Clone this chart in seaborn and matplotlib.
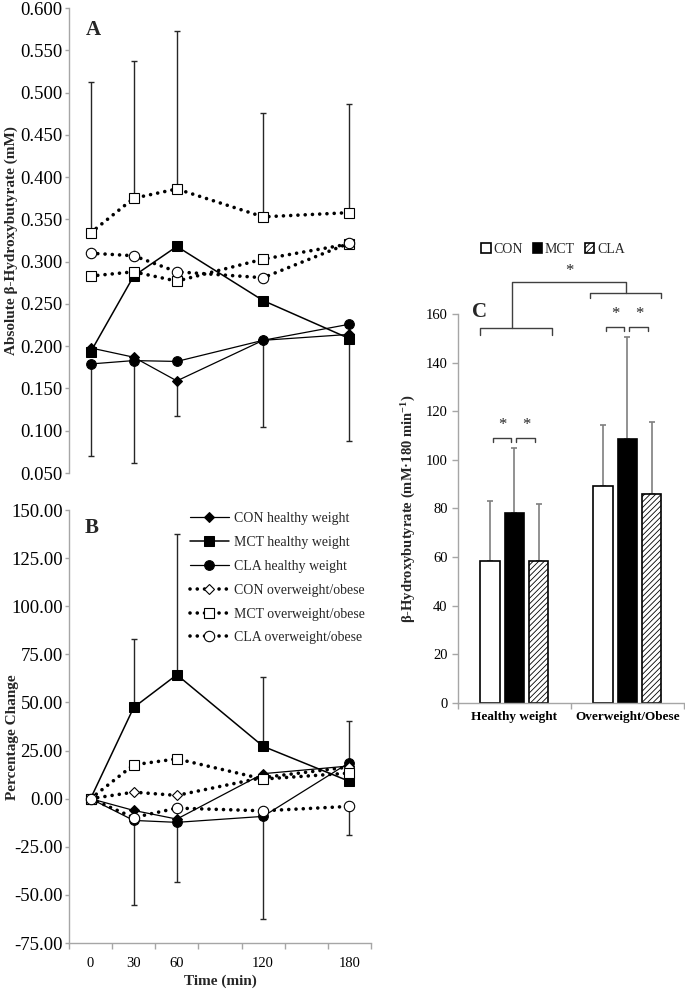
import numpy as np
import pandas as pd
import seaborn as sns
import matplotlib.pyplot as plt
from matplotlib.patches import Patch

nan = np.nan

# 时间点
time_min = [0, 30, 60, 120, 180]

# A: 绝对值 (mM)
con_hw_abs = [0.198, 0.187, 0.159, 0.207, 0.214]
mct_hw_abs = [0.193, 0.283, 0.318, 0.254, 0.209]
cla_hw_abs = [0.179, 0.183, 0.182, 0.207, 0.226]
con_ow_abs = [0.283, 0.288, 0.277, 0.303, 0.321]
mct_ow_abs = [0.334, 0.375, 0.386, 0.353, 0.358]
cla_ow_abs = [0.310, 0.307, 0.288, 0.281, 0.322]
# A: 误差 (只画单边)
mct_ow_abs_sd = [0.178, 0.162, 0.187, 0.123, 0.129]   # 向上
con_hw_abs_sd = [nan, nan, 0.042, nan, nan]            # 向下
cla_hw_abs_sd = [0.109, 0.121, nan, 0.102, nan]        # 向下
mct_hw_abs_sd = [nan, nan, nan, nan, 0.121]            # 向下

# B: 百分比变化
con_hw_pct = [0, -6.1, -10.6, 13.0, 17.0]
mct_hw_pct = [0, 47.4, 64.4, 27.2, 9.0]
cla_hw_pct = [0, -11.3, -12.3, -9.2, 18.8]
con_ow_pct = [0, 3.4, 1.7, 11.0, 16.5]
mct_ow_pct = [0, 17.6, 20.7, 10.2, 13.3]
cla_ow_pct = [0, -9.8, -4.9, -6.3, -4.0]
mct_hw_pct_sd = [nan, 35.6, 73.2, 36.0, 31.6]   # 向上
cla_hw_pct_sd = [nan, 44.2, 31.0, 53.5, nan]    # 向下
cla_ow_pct_sd = [nan, nan, nan, nan, 15.1]      # 向下

# C: 曲线下面积
groups = ['Healthy weight', 'Overweight/Obese']
treatments = ['CON', 'MCT', 'CLA']
auc_hw = [58.5, 78.0, 58.5]
auc_ow = [89.2, 108.7, 86.0]
auc_hw_sd = [24.5, 27.0, 23.5]
auc_ow_sd = [25.3, 41.8, 29.7]

sns.set_style('ticks')
plt.rcParams['font.family'] = ['Liberation Serif', 'DejaVu Serif']
plt.rcParams['mathtext.fontset'] = 'custom'
plt.rcParams['mathtext.rm'] = 'Liberation Serif:bold'
plt.rcParams['mathtext.it'] = 'Liberation Serif:bold'
plt.rcParams['mathtext.bf'] = 'Liberation Serif:bold'
plt.rcParams['hatch.linewidth'] = 0.6

GRAY = '#a6a6a6'
DOT = (0, (0.01, 2.0))

styles = {
    'CON healthy weight': dict(marker='D', markersize=5, color='black', lw=0.9,
                               markerfacecolor='black', markeredgecolor='black'),
    'MCT healthy weight': dict(marker='s', markersize=7, color='black', lw=1.1,
                               markerfacecolor='black', markeredgecolor='black'),
    'CLA healthy weight': dict(marker='o', markersize=7, color='black', lw=0.9,
                               markerfacecolor='black', markeredgecolor='black'),
    'CON overweight/obese': dict(marker='D', markersize=5.5, color='black', lw=2.6,
                                 linestyle=DOT, dash_capstyle='round',
                                 markerfacecolor='white', markeredgecolor='black', markeredgewidth=0.8),
    'MCT overweight/obese': dict(marker='s', markersize=7, color='black', lw=2.6,
                                 linestyle=DOT, dash_capstyle='round',
                                 markerfacecolor='white', markeredgecolor='black', markeredgewidth=0.8),
    'CLA overweight/obese': dict(marker='o', markersize=7.5, color='black', lw=2.6,
                                 linestyle=DOT, dash_capstyle='round',
                                 markerfacecolor='white', markeredgecolor='black', markeredgewidth=0.8),
}

fig = plt.figure(figsize=(6.85, 9.89), dpi=100)
axA = fig.add_axes([0.1007, 0.5217, 0.4409, 0.4702])
axB = fig.add_axes([0.1007, 0.0465, 0.4409, 0.4378])
axC = fig.add_axes([0.6686, 0.2892, 0.3299, 0.3933])


def err(ax, y, sd, up=True, color='#262626'):
    y = np.array(y, dtype=float)
    sd = np.array(sd, dtype=float)
    z = np.zeros_like(sd)
    yerr = [z, sd] if up else [sd, z]
    ax.errorbar(time_min, y, yerr=yerr, fmt='none', ecolor=color, elinewidth=1.0,
                capsize=2.5, capthick=1.0, zorder=1)


def style_axis(ax):
    for s in ['top', 'right']:
        ax.spines[s].set_visible(False)
    for s in ['left', 'bottom']:
        ax.spines[s].set_color(GRAY)
        ax.spines[s].set_linewidth(1.0)
    ax.tick_params(colors=GRAY, labelcolor='black', width=1.0, length=4)


# ---------- A ----------
err(axA, mct_ow_abs, mct_ow_abs_sd, up=True)
err(axA, con_hw_abs, con_hw_abs_sd, up=False)
err(axA, cla_hw_abs, cla_hw_abs_sd, up=False)
err(axA, mct_hw_abs, mct_hw_abs_sd, up=False)

series_a = [
    (con_hw_abs, 'CON healthy weight'), (cla_hw_abs, 'CLA healthy weight'),
    (mct_hw_abs, 'MCT healthy weight'), (con_ow_abs, 'CON overweight/obese'),
    (cla_ow_abs, 'CLA overweight/obese'), (mct_ow_abs, 'MCT overweight/obese'),
]
for y, name in series_a:
    st = dict(styles[name])
    if name == 'CON overweight/obese':  # 图A里用的是方块
        st['marker'] = 's'
        st['markersize'] = 7
    sns.lineplot(x=time_min, y=y, ax=axA, zorder=3, **st)

axA.set_xlim(-15, 195)
axA.set_ylim(0.05, 0.6)
axA.set_yticks(np.arange(0.05, 0.6001, 0.05))
axA.set_yticklabels(['%.3f' % v for v in np.arange(0.05, 0.6001, 0.05)], fontsize=13.5)
style_axis(axA)
axA.tick_params(axis='y', length=3, pad=1.5)
axA.spines['bottom'].set_visible(False)
axA.set_xticks([])
axA.set_ylabel('Absolute β-Hydroxybutyrate (mM)', fontsize=11, fontweight='bold')
axA.yaxis.set_label_coords(-0.17, 0.5)
axA.text(0.08, 0.953, 'A', transform=axA.transAxes, fontsize=15, fontweight='bold',
         ha='center', va='center')

# ---------- B ----------
err(axB, mct_hw_pct, mct_hw_pct_sd, up=True)
err(axB, cla_hw_pct, cla_hw_pct_sd, up=False)
err(axB, cla_ow_pct, cla_ow_pct_sd, up=False)

series_b = [
    (con_hw_pct, 'CON healthy weight'), (mct_hw_pct, 'MCT healthy weight'),
    (cla_hw_pct, 'CLA healthy weight'), (con_ow_pct, 'CON overweight/obese'),
    (mct_ow_pct, 'MCT overweight/obese'), (cla_ow_pct, 'CLA overweight/obese'),
]
for y, name in series_b:
    sns.lineplot(x=time_min, y=y, ax=axB, label=name, zorder=3, **styles[name])

axB.set_xlim(-15, 195)
axB.set_ylim(-75, 150)
yt = np.arange(-75, 150.1, 25)
axB.set_yticks(yt)
axB.set_yticklabels(['%.2f' % v for v in yt], fontsize=13.5)
style_axis(axB)
axB.tick_params(axis='y', length=3, pad=1.5)
axB.set_xticks(time_min)
axB.set_xticklabels([str(t) for t in time_min], fontsize=10.5)
axB.set_xticks(np.arange(-15, 196, 30), minor=True)
axB.tick_params(axis='x', which='major', length=0, pad=10)
axB.tick_params(axis='x', which='minor', length=4, color=GRAY, width=1.0)
axB.set_xlabel('Time (min)', fontsize=11, fontweight='bold', labelpad=3)
axB.set_ylabel('Percentage Change', fontsize=11, fontweight='bold')
axB.yaxis.set_label_coords(-0.165, 0.476)
axB.text(0.076, 0.958, 'B', transform=axB.transAxes, fontsize=15, fontweight='bold',
         ha='center', va='center')
axB.legend(loc='upper left', bbox_to_anchor=(0.40, 0.995), frameon=False, fontsize=10,
           handlelength=2.8, handletextpad=0.35, labelspacing=0.78, borderaxespad=0,
           borderpad=0)

# ---------- C ----------
df_c = pd.DataFrame({
    'group': [groups[0]] * 3 + [groups[1]] * 3,
    'treatment': treatments * 2,
    'auc': auc_hw + auc_ow,
    'sd': auc_hw_sd + auc_ow_sd,
})
sns.barplot(data=df_c, x='group', y='auc', hue='treatment', hue_order=treatments,
            palette=['white', 'black', 'white'], edgecolor='black', linewidth=1.2,
            width=0.645, gap=0.2, errorbar=None, legend=False, ax=axC, zorder=2)

bar_containers = list(axC.containers)
centers = {}
for k, cont in enumerate(bar_containers):
    tr = treatments[k]
    for j, bar in enumerate(cont):
        if tr == 'CLA':
            bar.set_hatch('//////')
        cx = bar.get_x() + bar.get_width() / 2
        h = bar.get_height()
        centers[(j, tr)] = (cx, h, bar.get_width())
        sd = df_c[(df_c.group == groups[j]) & (df_c.treatment == tr)]['sd'].iloc[0]
        axC.errorbar([cx], [h], yerr=[[0], [sd]], fmt='none', ecolor='#7f7f7f',
                     elinewidth=1.2, capsize=2.5, capthick=1.2, zorder=1)

axC.set_ylim(0, 160)
axC.set_xlim(-0.5, 1.5)
axC.set_yticks(np.arange(0, 161, 20))
axC.tick_params(axis='y', labelsize=10.5)
style_axis(axC)
axC.set_xticks([0, 1])
axC.set_xticklabels(groups, fontsize=9.5, fontweight='bold')
axC.set_xticks([-0.5, 0.5, 1.5], minor=True)
axC.tick_params(axis='x', which='major', length=0, pad=6)
axC.tick_params(axis='x', which='minor', length=4, color=GRAY, width=1.0)
axC.set_xlabel('')
axC.set_ylabel('β-Hydroxybutyrate (mM·180 min$^{-1}$)', fontsize=10.5, fontweight='bold')
axC.yaxis.set_label_coords(-0.175, 0.5)
axC.text(0.093, 1.005, 'C', transform=axC.transAxes, fontsize=15, fontweight='bold',
         ha='center', va='center')

# 显著性括号
kw = dict(color='#404040', lw=1.0, clip_on=False)


def bracket(x0, x1, y, leg):
    axC.plot([x0, x0, x1, x1], [y - leg, y, y, y - leg], **kw)


def star(x, y):
    axC.text(x, y, '*', ha='center', va='center', fontsize=12, clip_on=False)


for j, ytop in [(0, 109.0), (1, 154.6)]:
    c0 = centers[(j, 'CON')][0]
    c1 = centers[(j, 'MCT')][0]
    c2 = centers[(j, 'CLA')][0]
    bracket(c0 + 0.025, c1 - 0.03, ytop, 1.5)
    bracket(c1 + 0.015, c2 - 0.03, ytop, 1.5)
    star((c0 + c1) / 2, ytop + 5.5)
    star((c1 + c2) / 2, ytop + 5.5)

w = centers[(0, 'CON')][2]
g0 = (centers[(0, 'CON')][0] - w / 2, centers[(0, 'CLA')][0] + w / 2)
g1 = (centers[(1, 'CON')][0] - w / 2, centers[(1, 'CLA')][0] + w / 2)
bracket(g0[0], g0[1] + 0.03, 154.2, 2.9)
bracket(g1[0] - 0.03, g1[1], 168.7, 2.1)
m0 = (g0[0] + g0[1]) / 2 - 0.02
m1 = (g1[0] + g1[1]) / 2 - 0.01
axC.plot([m0, m0, m1, m1], [154.2, 173.2, 173.2, 168.7], **kw)
star((m0 + m1) / 2, 177.5)

handles = [Patch(facecolor='white', edgecolor='black', lw=1.2, label='CON'),
           Patch(facecolor='black', edgecolor='black', lw=1.2, label='MCT'),
           Patch(facecolor='white', edgecolor='black', lw=1.2, hatch='//////', label='CLA')]
axC.legend(handles=handles, loc='center', bbox_to_anchor=(0.42, 1.167), ncol=3,
           frameon=False, fontsize=10, handlelength=0.7, handleheight=0.7,
           handletextpad=0.2, columnspacing=0.7, borderpad=0)

fig.savefig('out.png', dpi=100)
